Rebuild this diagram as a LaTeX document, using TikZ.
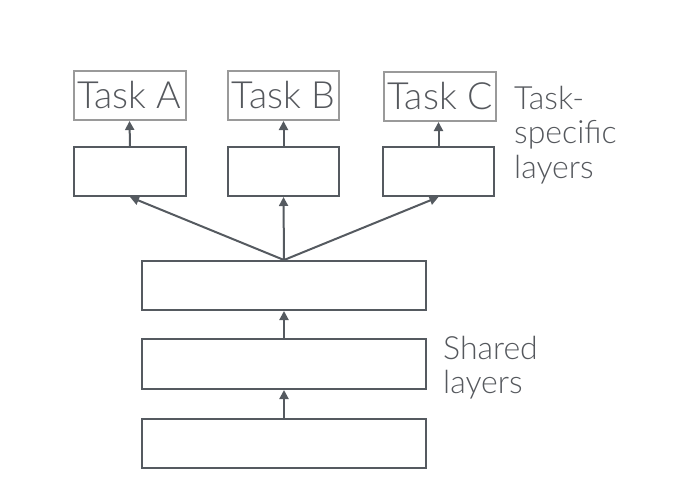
\documentclass[tikz,border=0pt]{standalone}
\usepackage{fontspec}
\setmainfont{Lato}[UprightFont={* Light}]
\usetikzlibrary{arrows.meta}
\definecolor{ink}{HTML}{555A60}
\definecolor{soft}{HTML}{9A9A9A}
\definecolor{txt}{HTML}{55585D}
\tikzset{
  layer/.style={draw=ink, line width=2pt, inner sep=0pt, fill=white},
  taskbox/.style={draw=soft, line width=2pt, inner sep=0pt, text=txt,
    font=\fontsize{37.5}{42}\selectfont},
  arr/.style={draw=ink, line width=2pt, -{Triangle[length=9pt,width=9pt]}},
  note/.style={text=txt, align=left, inner sep=0pt, anchor=north west,
    font=\fontsize{32}{34.5}\selectfont}
}
\begin{document}
\begin{tikzpicture}[x=1pt, y=-1pt]
\useasboundingbox (0,0) rectangle (676,498);

% task outputs
\node[taskbox, minimum width=112pt, minimum height=49pt] (ta) at (129.5,95.5) {Task A};
\node[taskbox, minimum width=111pt, minimum height=49pt] (tb) at (283.5,95.5) {Task B};
\node[taskbox, minimum width=112pt, minimum height=49pt] (tc) at (440,96.5) {Task C};

% task-specific layers
\node[layer, minimum width=112pt, minimum height=49pt] (la) at (130,171.5) {};
\node[layer, minimum width=111pt, minimum height=49pt] (lb) at (283.5,171.5) {};
\node[layer, minimum width=111pt, minimum height=49pt] (lc) at (438.5,171.5) {};

% shared layers
\node[layer, minimum width=284pt, minimum height=49pt] (s3) at (284,285.5) {};
\node[layer, minimum width=284pt, minimum height=50pt] (s2) at (284,364) {};
\node[layer, minimum width=284pt, minimum height=49pt] (s1) at (284,443.5) {};

% connections
\draw[arr] (s1.north) -- (s2.south);
\draw[arr] (s2.north) -- (s3.south);
\draw[arr] (s3.north) -- (la.south);
\draw[arr] (s3.north) -- (lb.south);
\draw[arr] (s3.north) -- (lc.south);
\draw[arr] (la.north) -- (ta.south);
\draw[arr] (lb.north) -- (tb.south);
\draw[arr] (lc.north) -- (tc.south -| lc.north);

% labels
\node[note] (tsl) at (514,86) {Task-\\specific\\layers};
\node[note] (shl) at (443,336) {Shared\\layers};
\end{tikzpicture}
\end{document}
